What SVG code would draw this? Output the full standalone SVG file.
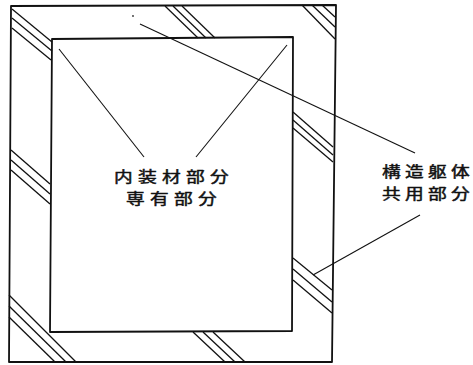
<svg xmlns="http://www.w3.org/2000/svg" width="473" height="365" viewBox="0 0 473 365">
<style>
.frame{fill:none;stroke:#111;stroke-width:1.8;stroke-linejoin:round}
.hatch{stroke:#111;stroke-width:1.3;fill:none}
.lead{stroke:#111;stroke-width:1.1;fill:none}
.lbl{font-family:"Noto Sans CJK JP","Noto Sans",sans-serif;font-size:15px;fill:#111;stroke:#111;stroke-width:0.45}
</style>
<rect width="473" height="365" fill="#fff"/>
<g id="structure">
<polygon class="frame" points="11,6 336,5 332,362 9,362"/>
<g class="hatch">
<line x1="12" y1="9" x2="52" y2="42"/>
<line x1="12" y1="18" x2="52" y2="51"/>
<line x1="12" y1="28" x2="51" y2="60"/>
<line x1="165" y1="6" x2="198" y2="38"/>
<line x1="173" y1="6" x2="206" y2="38"/>
<line x1="182" y1="6" x2="215" y2="38"/>
<line x1="302" y1="5" x2="335" y2="39"/>
<line x1="312" y1="5" x2="335" y2="27"/>
<line x1="322" y1="5" x2="335" y2="17"/>
<line x1="293" y1="112" x2="333" y2="147"/>
<line x1="293" y1="120" x2="333" y2="155"/>
<line x1="293" y1="128" x2="333" y2="162"/>
<line x1="293" y1="258" x2="332" y2="290"/>
<line x1="293" y1="269" x2="332" y2="302"/>
<line x1="293" y1="280" x2="332" y2="313"/>
<line x1="11" y1="150" x2="50" y2="184"/>
<line x1="11" y1="160" x2="50" y2="194"/>
<line x1="11" y1="170" x2="50" y2="204"/>
<line x1="9" y1="295" x2="76" y2="362"/>
<line x1="9" y1="306" x2="66" y2="362"/>
<line x1="9" y1="317" x2="55" y2="362"/>
<line x1="193" y1="332" x2="225" y2="362"/>
<line x1="203" y1="332" x2="235" y2="362"/>
<line x1="213" y1="332" x2="245" y2="362"/>
</g>
</g>
<g id="interior">
<polygon class="frame" fill="#fff" points="52,39 293,37 292,331 50,332"/>
<circle cx="133" cy="16" r="0.9" fill="#333"/>
</g>
<g id="connectors">
<line class="lead" x1="59" y1="49" x2="144" y2="157"/>
<line class="lead" x1="196" y1="157" x2="287" y2="45"/>
<line class="lead" x1="140" y1="24" x2="415" y2="153"/>
<line class="lead" x1="420" y1="215" x2="313" y2="275"/>
</g>
<g id="label-interior">
<text class="lbl" transform="translate(114,181.5) scale(1.25,1)" x="0 19.2 38.4 57.6 76.8" y="0">内装材部分</text>
<text class="lbl" transform="translate(126,203.5) scale(1.25,1)" x="0 19.2 38.4 57.6" y="0">専有部分</text>
</g>
<g id="label-structure">
<text class="lbl" transform="translate(382,177) scale(1.25,1)" x="0 18.4 36.8 55.2" y="0">構造躯体</text>
<text class="lbl" transform="translate(382,199) scale(1.25,1)" x="0 18.4 36.8 55.2" y="0">共用部分</text>
</g>
</svg>
